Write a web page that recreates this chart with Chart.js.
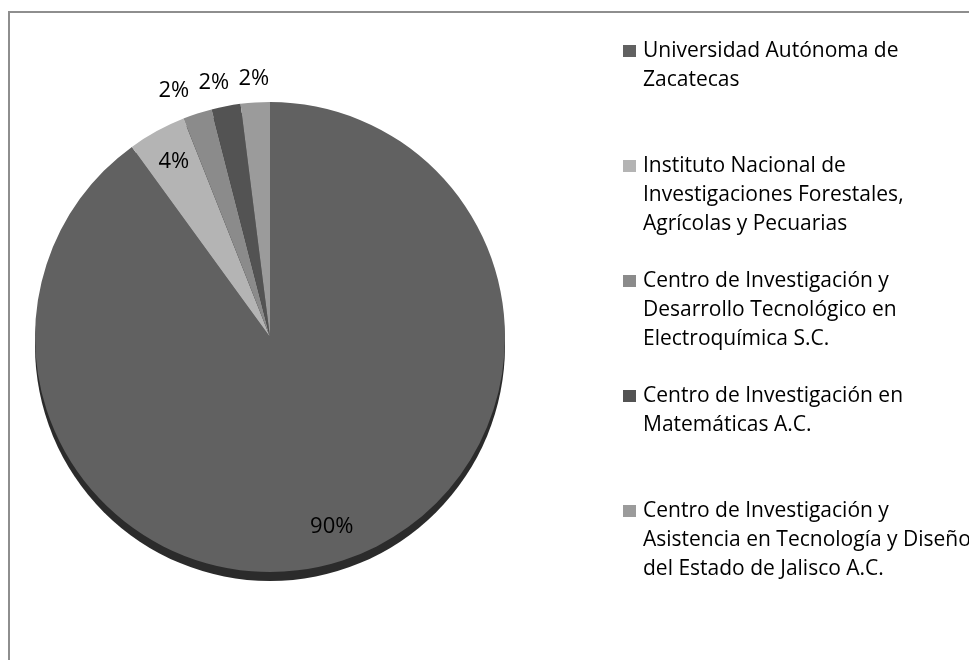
<!DOCTYPE html>
<html>
<head>
<meta charset="utf-8">
<script src="https://cdn.jsdelivr.net/npm/chart.js@4.4.1/dist/chart.umd.min.js"></script>
<style>
  html, body { margin: 0; padding: 0; background: #fff; overflow: hidden; }
  #wrap { position: relative; width: 969px; height: 660px; }
  #frame { position: absolute; left: 8px; top: 11px; width: 980px; height: 670px; border-left: 2px solid #8e8e8e; border-top: 2px solid #8e8e8e; }
  canvas { position: absolute; left: 0; top: 0; }
</style>
</head>
<body>
<div id="wrap">
  <div id="frame"></div>
  <canvas id="pie" width="969" height="660"></canvas>
</div>
<script>
// datos
const instituciones = [
  ['Universidad Autónoma de', 'Zacatecas'],
  ['Instituto Nacional de', 'Investigaciones Forestales,', 'Agrícolas y Pecuarias'],
  ['Centro de Investigación y', 'Desarrollo Tecnológico en', 'Electroquímica S.C.'],
  ['Centro de Investigación en', 'Matemáticas A.C.'],
  ['Centro de Investigación y', 'Asistencia en Tecnología y Diseño', 'del Estado de Jalisco A.C.']
];
const porcentajes = [90, 4, 2, 2, 2];
const grises = ['#616161', '#b4b4b4', '#8b8b8b', '#535353', '#9b9b9b'];

const FONT = '"Open Sans", sans-serif';

// sombra inferior (efecto 3D)
const sombra = {
  id: 'sombra',
  beforeDatasetsDraw(chart) {
    const arc = chart.getDatasetMeta(0).data[0];
    if (!arc) return;
    const { x, y, outerRadius } = arc.getProps(['x', 'y', 'outerRadius'], true);
    const c = chart.ctx;
    c.save();
    c.fillStyle = '#2b2b2b';
    c.beginPath();
    c.arc(x, y + 9, outerRadius, 0, Math.PI * 2);
    c.fill();
    c.restore();
  }
};

// etiquetas de porcentaje (las pequeñas van fuera y se separan)
const etiquetas = {
  id: 'etiquetas',
  afterDatasetsDraw(chart) {
    const c = chart.ctx;
    const vals = chart.data.datasets[0].data;
    const pos = chart.getDatasetMeta(0).data.map((arc, i) => {
      const p = arc.getProps(['x', 'y', 'startAngle', 'endAngle', 'outerRadius'], true);
      const mid = (p.startAngle + p.endAngle) / 2;
      const fuera = vals[i] < 3;
      const f = fuera ? 1.10 : 0.85;
      return { i, fuera, x: p.x + Math.cos(mid) * p.outerRadius * f, y: p.y + Math.sin(mid) * p.outerRadius * f };
    });
    // evitar que se encimen las etiquetas exteriores
    const ext = pos.filter(p => p.fuera).sort((a, b) => b.x - a.x);
    for (let k = 1; k < ext.length; k++) {
      if (ext[k - 1].x - ext[k].x < 40) ext[k].x = ext[k - 1].x - 40;
    }
    c.save();
    c.fillStyle = '#000';
    c.font = '22px ' + FONT;
    c.textAlign = 'center';
    c.textBaseline = 'middle';
    pos.forEach(p => c.fillText(vals[p.i] + '%', p.x, p.y));
    c.restore();
  }
};

// leyenda a la derecha, con varias líneas por elemento
const leyenda = {
  id: 'leyenda',
  afterDraw(chart) {
    const c = chart.ctx;
    const labels = chart.data.labels;
    const colors = chart.data.datasets[0].backgroundColor;
    const x0 = 623, y0 = 51, paso = 115, lh = 29;
    c.save();
    c.font = '21px ' + FONT;
    c.textBaseline = 'middle';
    c.textAlign = 'left';
    labels.forEach((lines, i) => {
      const y = y0 + i * paso;
      c.fillStyle = colors[i];
      c.fillRect(x0, y - 6, 13, 12);
      c.fillStyle = '#000';
      lines.forEach((t, k) => c.fillText(t, x0 + 20, y + k * lh));
    });
    c.restore();
  }
};

new Chart(document.getElementById('pie').getContext('2d'), {
  type: 'pie',
  data: {
    labels: instituciones,
    datasets: [{
      data: porcentajes,
      backgroundColor: grises,
      borderWidth: 0
    }]
  },
  options: {
    responsive: false,
    animation: false,
    layout: { padding: { left: 34, right: 463, top: 102, bottom: 88 } },
    plugins: {
      legend: { display: false },
      tooltip: { enabled: false }
    }
  },
  plugins: [sombra, etiquetas, leyenda]
});
</script>
</body>
</html>
